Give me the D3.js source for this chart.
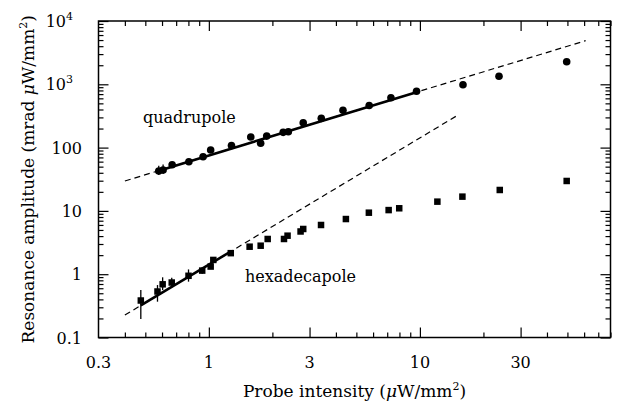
<!DOCTYPE html>
<html>
<head>
<meta charset="utf-8">
<script src="https://cdn.jsdelivr.net/npm/d3@7"></script>
<style>
  html, body { margin: 0; padding: 0; background: #fff; }
  svg { display: block; }
  text { font-family: "DejaVu Serif", serif; fill: #000; }
</style>
</head>
<body>
<svg id="chart" width="618" height="407"></svg>
<script>
// ---- data ----
const quadX = [0.579, 0.607, 0.670, 0.804, 0.939, 1.02, 1.28, 1.58, 1.76, 1.88, 2.25, 2.38, 2.80, 3.41, 4.32, 5.75, 7.29, 9.64, 16.0, 23.7, 49.6];
const quadY = [42.7, 44.3, 53.7, 59.9, 71.8, 91.6, 108, 147, 117, 152, 174, 178, 247, 290, 390, 462, 612, 778, 986, 1337, 2275];
const quadErrLo = [36.9, 38.3, null, 55.0, null, null, null, null, null, null, null, null, null, null, null, null, null, null, null, null, null];
const quadErrHi = [51.8, 54.1, null, 65.5, null, null, null, null, null, null, null, null, null, null, null, null, null, null, null, null, null];

const hexX = [0.476, 0.571, 0.604, 0.667, 0.801, 0.930, 1.02, 1.05, 1.27, 1.56, 1.76, 1.90, 2.27, 2.36, 2.72, 2.80, 3.40, 4.46, 5.73, 7.11, 7.98, 12.1, 15.9, 23.9, 49.6];
const hexY = [0.384, 0.533, 0.692, 0.739, 0.944, 1.14, 1.32, 1.68, 2.15, 2.72, 2.82, 3.60, 3.60, 4.06, 4.73, 5.18, 5.99, 7.44, 9.37, 10.3, 11.0, 14.0, 16.8, 21.4, 29.7];
const hexErrLo = [0.196, 0.368, 0.562, 0.635, 0.762, 1.02];
const hexErrHi = [0.562, 0.674, 0.893, 0.881, 1.19, 1.26];

// fit lines: [x, y] endpoints
const quadDashed = [[0.40, 29.7], [61, 4886]];
const quadSolid  = [[0.56, 41.7], [9.8, 764]];
const hexDashed  = [[0.40, 0.226], [15.2, 329]];
const hexSolid   = [[0.476, 0.321], [1.28, 2.32]];

const xTickValues = [0.3, 1, 3, 10, 30];
const xTickLabels = ["0.3", "1", "3", "10", "30"];
const xMinorTicks = [0.4, 0.5, 0.6, 0.7, 0.8, 0.9, 2, 4, 5, 6, 7, 8, 9, 20, 40, 50, 60, 70, 80];
const yTickValues = [0.1, 1, 10, 100, 1000, 10000];
const yTickBase = ["0.1", "1", "10", "100", "10", "10"];
const yTickSup  = ["", "", "", "", "3", "4"];
const yMinorTicks = [];
[0.1, 1, 10, 100, 1000].forEach(d => { for (let k = 2; k <= 9; k++) yMinorTicks.push(+(d * k).toPrecision(3)); });

const xLabel = ["Probe intensity (", "μ", "W/mm", "2", ")"];
const yLabel = ["Resonance amplitude (mrad ", "μ", "W/mm", "2", ")"];

// ---- layout ----
const svg = d3.select("#chart");
const L = 98.5, R = 610.5, T = 21, B = 337.5;
const x = d3.scaleLog().domain([0.3, 80]).range([L, R]);
const y = d3.scaleLog().domain([0.1, 10000]).range([B, T]);

// ---- axes with inward ticks ----
function axisGroup(axisFn, scale, vals, size, tx, ty) {
  const g = svg.append("g").attr("transform", `translate(${tx},${ty})`)
    .call(axisFn(scale).tickValues(vals).tickSize(size).tickFormat(""));
  g.select(".domain").remove();
  g.selectAll(".tick line").attr("stroke", "#000").attr("stroke-width", 1.2);
  return g;
}
const MAJ = 10, MIN = 5;
axisGroup(d3.axisBottom, x, xTickValues.filter(v => v > 0.3), -MAJ, 0, B);
axisGroup(d3.axisBottom, x, xMinorTicks, -MIN, 0, B);
axisGroup(d3.axisTop, x, xTickValues.filter(v => v > 0.3), -MAJ, 0, T);
axisGroup(d3.axisTop, x, xMinorTicks, -MIN, 0, T);
axisGroup(d3.axisLeft, y, yTickValues, -MAJ, L, 0);
axisGroup(d3.axisLeft, y, yMinorTicks, -MIN, L, 0);
axisGroup(d3.axisRight, y, yTickValues, -MAJ, R, 0);
axisGroup(d3.axisRight, y, yMinorTicks, -MIN, R, 0);

// frame
svg.append("rect").attr("x", L).attr("y", T).attr("width", R - L).attr("height", B - T)
  .attr("fill", "none").attr("stroke", "#000").attr("stroke-width", 1.5);

// tick labels
svg.append("g").selectAll("text").data(xTickValues).join("text")
  .attr("x", d => x(d)).attr("y", 368).attr("text-anchor", "middle")
  .attr("font-size", 16).text((d, i) => xTickLabels[i]);

const yl = svg.append("g").selectAll("text").data(yTickValues).join("text")
  .attr("x", (d, i) => yTickSup[i] ? 73 : 82)
  .attr("y", d => y(d) + 6).attr("text-anchor", "end").attr("font-size", 16);
yl.append("tspan").text((d, i) => yTickBase[i]);
yl.filter((d, i) => yTickSup[i]).append("tspan").attr("dy", -7).attr("font-size", 11)
  .text((d) => yTickSup[yTickValues.indexOf(d)]);

// axis titles
function richLabel(sel, parts) {
  sel.append("tspan").text(parts[0]);
  sel.append("tspan").attr("font-style", "italic").text(parts[1]);
  sel.append("tspan").text(parts[2]);
  sel.append("tspan").attr("dy", -7).attr("font-size", 11).text(parts[3]);
  sel.append("tspan").attr("dy", 7).text(parts[4]);
}
richLabel(svg.append("text").attr("x", (L + R) / 2 + 0).attr("y", 397)
  .attr("text-anchor", "middle").attr("font-size", 17), xLabel);
richLabel(svg.append("text").attr("transform", `translate(34,${(T + B) / 2}) rotate(-90)`)
  .attr("text-anchor", "middle").attr("font-size", 17), yLabel);

// fit lines
const line = d3.line().x(d => x(d[0])).y(d => y(d[1]));
svg.append("path").attr("d", line(quadDashed)).attr("fill", "none").attr("stroke", "#000")
  .attr("stroke-width", 1.2).attr("stroke-dasharray", "6,4");
svg.append("path").attr("d", line(hexDashed)).attr("fill", "none").attr("stroke", "#000")
  .attr("stroke-width", 1.2).attr("stroke-dasharray", "6,4");
svg.append("path").attr("d", line(quadSolid)).attr("fill", "none").attr("stroke", "#000")
  .attr("stroke-width", 2.6);
svg.append("path").attr("d", line(hexSolid)).attr("fill", "none").attr("stroke", "#000")
  .attr("stroke-width", 2.6);

// error bars
svg.append("g").selectAll("line").data(quadX.map((v, i) => i).filter(i => quadErrLo[i] != null)).join("line")
  .attr("x1", i => x(quadX[i])).attr("x2", i => x(quadX[i]))
  .attr("y1", i => y(quadErrLo[i])).attr("y2", i => y(quadErrHi[i]))
  .attr("stroke", "#000").attr("stroke-width", 1.3);
svg.append("g").selectAll("line").data(hexErrLo.map((v, i) => i)).join("line")
  .attr("x1", i => x(hexX[i])).attr("x2", i => x(hexX[i]))
  .attr("y1", i => y(hexErrLo[i])).attr("y2", i => y(hexErrHi[i]))
  .attr("stroke", "#000").attr("stroke-width", 1.3);

// markers
svg.append("g").selectAll("circle").data(quadX).join("circle")
  .attr("cx", d => x(d)).attr("cy", (d, i) => y(quadY[i])).attr("r", 3.8).attr("fill", "#000");
const S = 6.5;
svg.append("g").selectAll("rect").data(hexX).join("rect")
  .attr("x", d => x(d) - S / 2).attr("y", (d, i) => y(hexY[i]) - S / 2)
  .attr("width", S).attr("height", S).attr("fill", "#000");

// annotations
svg.append("text").attr("x", 143).attr("y", 123).attr("font-size", 16).text("quadrupole");
svg.append("text").attr("x", 245).attr("y", 282).attr("font-size", 16).text("hexadecapole");
</script>
</body>
</html>
